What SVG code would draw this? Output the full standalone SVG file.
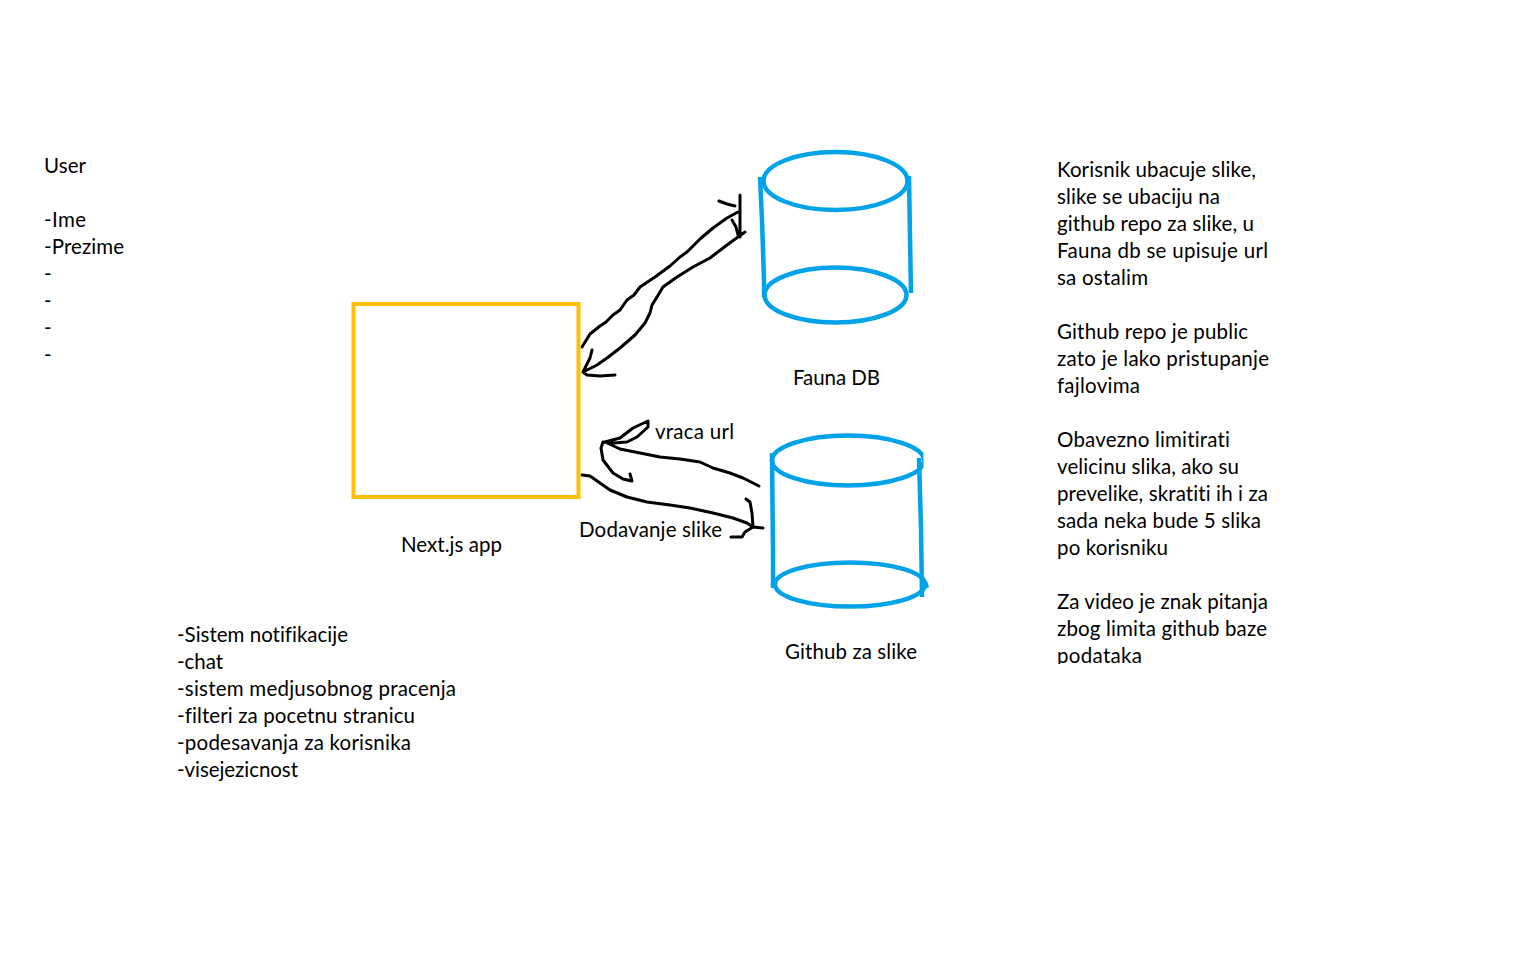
<svg xmlns="http://www.w3.org/2000/svg" width="1536" height="960" viewBox="0 0 1536 960">
<style>
text{font-family:"Lato","Carlito","Liberation Sans",sans-serif;font-size:20.5px;font-variant-ligatures:none;fill:#000}
.c{fill:none;stroke:#00a2e8;stroke-width:4.500;stroke-linejoin:round}
.k{fill:none;stroke:#000;stroke-width:3;stroke-linecap:round;stroke-linejoin:round}
</style>
<defs><clipPath id="clipNote"><rect x="1050" y="150" width="230" height="514"/></clipPath><clipPath id="clipGh"><rect x="760" y="425" width="163.500" height="70"/></clipPath></defs>
<rect width="1536" height="960" fill="#fff"/>
<g id="connectors">
<path class="k" d="M582 347L590 334L600 326L606 322L613 315L620 310L627 300L634 295L640 287L655 277L670 266L680 257L687 252L700 239L713 228L727 218L738 212"/>
<path class="k" d="M719 201L727 204L735 206M740 195L740 237M745 232L738 237L727 245L710 258L693 267L677 277L663 287L657 297L652 305L650 313L645 323L635 335L620 348L607 358L597 365L583 372L587 375L600 376L615 375M592 350L590 358L583 372M732 220L736 227L738 235"/>
<path class="k" d="M582 475L590 476L600 483L610 490L627 497L647 502L670 505L690 508L713 513L733 518L747 523L753 527L763 528M746 499L750 502L752 513L753 527L745 532L742 537L731 537"/>
<path class="k" d="M759 486L743 478L730 473L713 468L700 462L680 459L660 457L640 453L620 449L605 442L620 438L633 428L648 421L648 427L637 437L627 442L613 443L603 442L601 448L603 460L613 473L623 479L632 481L630 474"/>
</g>
<g id="nextjs">
<rect x="353.500" y="304" width="225" height="193" fill="none" stroke="#ffc000" stroke-width="4"/>
<text x="401" y="552" textLength="101">Next.js app</text>
</g>
<g id="fauna">
<ellipse class="c" cx="835.500" cy="181" rx="72" ry="29"/>
<ellipse class="c" cx="835.500" cy="295" rx="71" ry="27.500"/>
<path class="c" d="M760 177L762 220L763 250L764 280L764 297M909 176L910 237L911 293"/>
<text x="793" y="385" textLength="87">Fauna DB</text>
</g>
<g id="github">
<ellipse class="c" cx="848" cy="460.500" rx="76" ry="25" clip-path="url(#clipGh)"/>
<ellipse class="c" cx="850" cy="584.500" rx="75" ry="22"/>
<path class="c" d="M772 453L773 553L773 588M919 458L921 528L922 597M925 582L927 588"/>
<text x="785" y="659" textLength="132">Github za slike</text>
</g>
<g id="labels">
<text x="655" y="439" textLength="79">vraca url</text>
<text x="579" y="537" textLength="143">Dodavanje slike</text>
</g>
<g id="user">
<text x="44" y="173" textLength="42">User</text>
<text x="44" y="227" textLength="42">-Ime</text>
<text x="44" y="254" textLength="80">-Prezime</text>
<text x="44" y="281">-</text>
<text x="44" y="308">-</text>
<text x="44" y="335">-</text>
<text x="44" y="362">-</text>
</g>
<g id="features">
<text x="177" y="642" textLength="171">-Sistem notifikacije</text>
<text x="177" y="669" textLength="46">-chat</text>
<text x="177" y="696" textLength="279">-sistem medjusobnog pracenja</text>
<text x="177" y="723" textLength="238">-filteri za pocetnu stranicu</text>
<text x="177" y="750" textLength="234">-podesavanja za korisnika</text>
<text x="177" y="777" textLength="121">-visejezicnost</text>
</g>
<g id="notes" clip-path="url(#clipNote)">
<text x="1057" y="177" textLength="199">Korisnik ubacuje slike,</text>
<text x="1057" y="204" textLength="163">slike se ubaciju na</text>
<text x="1057" y="231" textLength="197">github repo za slike, u</text>
<text x="1057" y="258" textLength="211">Fauna db se upisuje url</text>
<text x="1057" y="285" textLength="91">sa ostalim</text>
<text x="1057" y="339" textLength="191">Github repo je public</text>
<text x="1057" y="366" textLength="212">zato je lako pristupanje</text>
<text x="1057" y="393" textLength="83">fajlovima</text>
<text x="1057" y="447" textLength="173">Obavezno limitirati</text>
<text x="1057" y="474" textLength="182">velicinu slika, ako su</text>
<text x="1057" y="501" textLength="211">prevelike, skratiti ih i za</text>
<text x="1057" y="528" textLength="204">sada neka bude 5 slika</text>
<text x="1057" y="555" textLength="111">po korisniku</text>
<text x="1057" y="609" textLength="211">Za video je znak pitanja</text>
<text x="1057" y="636" textLength="210">zbog limita github baze</text>
<text x="1057" y="663" textLength="85">podataka</text>
</g>
</svg>
